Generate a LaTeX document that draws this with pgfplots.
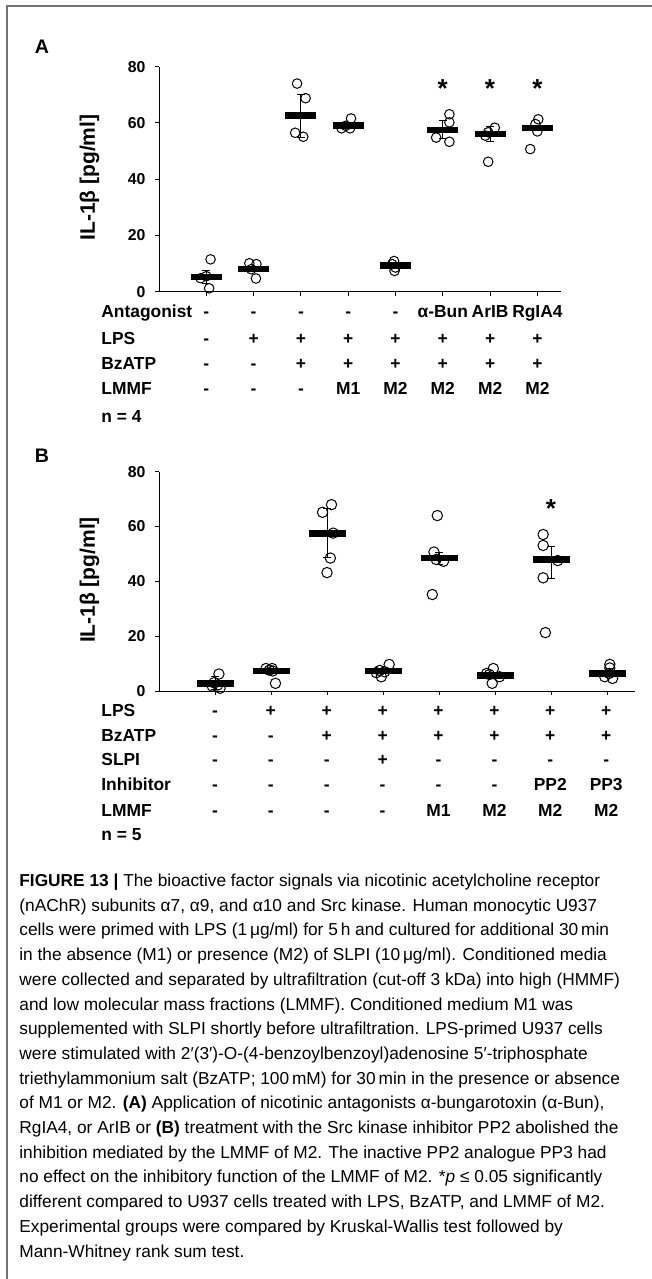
\documentclass[border=0pt]{standalone}
\usepackage{fontspec}
\setmainfont{Liberation Sans}
\usepackage{pgfplots}
\pgfplotsset{compat=1.18}
\pgfplotsset{
  panel/.style={
    scale only axis, clip=false,
    axis x line=bottom, axis y line=left, axis line style={-, line width=0.5pt, black},
    tick align=outside, major tick length=2pt, tick style={black, line width=0.5pt},
    xmin=0, xmax=8.5, ymin=0, ymax=80,
    xtick={1,...,8}, xticklabels={},
    ytick={0,20,40,60,80},
    /pgf/number format/assume math mode=true,
    yticklabel style={font=\bfseries\fontsize{7.9}{10}\selectfont, xshift=-1.2pt},
    anchor=south west,
  },
  circ/.style={only marks, mark=o, mark options={black, line width=0.5pt}},
  meanbar/.style={black, only marks, mark=-, mark options={line width=3.4pt},
    error bars/y dir=both, error bars/y explicit,
    error bars/error bar style={line width=0.5pt, black},
    error bars/error mark options={rotate=90, mark size=2pt, line width=0.5pt, black}},
}
\newcommand{\tf}{\bfseries\fontsize{8.7}{10}\selectfont}
\newcommand{\cf}{\fontsize{8.65}{10}\selectfont}
\begin{document}
\begin{tikzpicture}
\begin{scope}[x=0.5pt,y=-0.5pt]
\path[use as bounding box] (0,0) rectangle (652,1279);
\draw[black!55, line width=0.75pt] (7,1279) -- (7,6) -- (652,6);
% panel letters
\node[anchor=base, font=\bfseries\fontsize{9.8}{12}\selectfont] at (42,54) {A};
\node[anchor=base, font=\bfseries\fontsize{9.8}{12}\selectfont] at (42,462) {B};
% y labels
\node[rotate=90, font=\bfseries\fontsize{10.5}{12}\selectfont] at (89.6,177.5) {IL-1β [pg/ml]};
\node[rotate=90, font=\bfseries\fontsize{10.5}{12}\selectfont] at (89.6,580) {IL-1β [pg/ml]};
% table A
\begin{scope}[every node/.style={inner sep=0pt}]
\node[anchor=base west, font=\tf] at (101,317.5) {Antagonist};
\node[anchor=base west, font=\tf] at (101,344.3) {LPS};
\node[anchor=base west, font=\tf] at (101,369.3) {BzATP};
\node[anchor=base west, font=\tf] at (101,394.3) {LMMF};
\node[anchor=base west, font=\tf] at (101,422.5) {n = 4};
\foreach \t [count=\i] in {-,-,-,-,-,α-Bun,ArIB,RgIA4} \node[anchor=base, font=\tf] at ({159+\i*47.3},317.5) {\t};
\foreach \t [count=\i] in {-,+,+,+,+,+,+,+} \node[anchor=base, font=\tf] at ({159+\i*47.3},344.3) {\t};
\foreach \t [count=\i] in {-,-,+,+,+,+,+,+} \node[anchor=base, font=\tf] at ({159+\i*47.3},369.3) {\t};
\foreach \t [count=\i] in {-,-,-,M1,M2,M2,M2,M2} \node[anchor=base, font=\tf] at ({159+\i*47.3},394.3) {\t};
% table B
\node[anchor=base west, font=\tf] at (101,716) {LPS};
\node[anchor=base west, font=\tf] at (101,741) {BzATP};
\node[anchor=base west, font=\tf] at (101,765.3) {SLPI};
\node[anchor=base west, font=\tf] at (101,790) {Inhibitor};
\node[anchor=base west, font=\tf] at (101,816) {LMMF};
\node[anchor=base west, font=\tf] at (101,840.3) {n = 5};
\foreach \t [count=\i] in {-,+,+,+,+,+,+,+} \node[anchor=base, font=\tf] at ({159+\i*55.9},716) {\t};
\foreach \t [count=\i] in {-,-,+,+,+,+,+,+} \node[anchor=base, font=\tf] at ({159+\i*55.9},741) {\t};
\foreach \t [count=\i] in {-,-,-,+,-,-,-,-} \node[anchor=base, font=\tf] at ({159+\i*55.9},765.3) {\t};
\foreach \t [count=\i] in {-,-,-,-,-,-,PP2,PP3} \node[anchor=base, font=\tf] at ({159+\i*55.9},790) {\t};
\foreach \t [count=\i] in {-,-,-,-,M1,M2,M2,M2} \node[anchor=base, font=\tf] at ({159+\i*55.9},816) {\t};
\end{scope}
% caption
\foreach \l [count=\k] in {
{\textbf{FIGURE 13 |} The bioactive factor signals via nicotinic acetylcholine receptor},
{(nAChR) subunits α7, α9, and α10 and Src kinase. Human monocytic U937},
{cells were primed with LPS (1\,μg/ml) for 5\,h and cultured for additional 30\,min},
{in the absence (M1) or presence (M2) of SLPI (10\,μg/ml). Conditioned media},
{were collected and separated by ultrafiltration (cut-off 3 kDa) into high (HMMF)},
{and low molecular mass fractions (LMMF). Conditioned medium M1 was},
{supplemented with SLPI shortly before ultrafiltration. LPS-primed U937 cells},
{were stimulated with 2′(3′)-O-(4-benzoylbenzoyl)adenosine 5′-triphosphate},
{triethylammonium salt (BzATP; 100\,mM) for 30\,min in the presence or absence},
{of M1 or M2. \textbf{(A)} Application of nicotinic antagonists α-bungarotoxin (α-Bun),},
{RgIA4, or ArIB or \textbf{(B)} treatment with the Src kinase inhibitor PP2 abolished the},
{inhibition mediated by the LMMF of M2. The inactive PP2 analogue PP3 had},
{no effect on the inhibitory function of the LMMF of M2. *\textit{p} ≤ 0.05 significantly},
{different compared to U937 cells treated with LPS, BzATP, and LMMF of M2.},
{Experimental groups were compared by Kruskal-Wallis test followed by},
{Mann-Whitney rank sum test.}}
\node[anchor=base west, inner sep=0pt, font=\cf] at (19,{886.5+(\k-1)*24.7}) {\l};
\end{scope}

% ---------- Panel A ----------
\begin{axis}[panel, at={(79.5pt,-145.85pt)}, width=201pt, height=112.5pt]
\addplot[circ, mark size=2.4pt] coordinates {
(1.09,11.5) (0.88,4.8) (1.06,1.2) (1.00,5.5)
(1.91,10.1) (2.06,9.8) (2.05,4.7) (1.95,8.0)
(2.92,74.0) (3.10,68.8) (3.05,55.1) (2.88,56.5)
(4.06,61.6) (3.86,58.1) (4.04,58.1) (3.95,59.0)
(4.97,10.9) (4.98,7.4) (4.93,9.8) (5.00,8.6)
(6.14,63.1) (6.14,60.2) (5.86,54.8) (6.14,53.3)
(7.10,58.3) (6.96,56.7) (6.96,46.2) (6.90,55.5)
(8.02,61.3) (7.96,59.6) (8.00,57.0) (7.85,50.7)
};
\addplot[mark size=7.75pt, meanbar] coordinates {
(1,5.2) += (0,2.3) -= (0,2.3)
(2,8.1) += (0,0) -= (0,0)
(3,62.6) += (0,7.6) -= (0,7.6)
(4,59.2) += (0,0) -= (0,0)
(5,9.2) += (0,0) -= (0,0)
(6,57.5) += (0,3.2) -= (0,3.2)
(7,56.1) += (0,2.8) -= (0,2.8)
(8,58.2) += (0,0) -= (0,0)
};
\addplot[draw=none, mark=none, nodes near coords={*},
  every node near coord/.append style={anchor=base, font=\bfseries\fontsize{13}{14}\selectfont}]
  coordinates {(6,68.9) (7,68.9) (8,68.9)};
\end{axis}

% ---------- Panel B ----------
\begin{axis}[panel, at={(79.5pt,-345.5pt)}, width=238pt, height=109.65pt]
\addplot[circ, mark size=2.6pt] coordinates {
(1.07,6.2) (0.98,3.0) (1.05,2.2) (0.95,1.8) (1.09,1.0)
(1.91,8.2) (2.02,8.2) (2.08,2.8) (1.97,7.6) (2.03,7.3)
(3.08,68.0) (2.92,65.2) (3.11,57.6) (3.06,48.5) (3.00,43.2)
(4.11,9.7) (3.88,6.7) (3.97,5.2) (4.03,7.0) (3.94,7.5)
(4.97,64.0) (4.91,50.7) (5.08,47.3) (4.88,35.2) (4.95,48.0)
(5.97,8.2) (5.85,6.4) (5.95,2.8) (6.08,5.2) (5.90,6.0)
(6.86,57.1) (6.86,53.1) (7.12,47.6) (6.86,41.3) (6.90,21.3)
(8.05,9.7) (8.05,8.4) (8.04,6.4) (8.10,4.6) (7.96,5.2)
};
\addplot[mark size=9.25pt, meanbar] coordinates {
(1,2.8) += (0,2.4) -= (0,2.4)
(2,7.3) += (0,0) -= (0,0)
(3,57.6) += (0,9) -= (0,9)
(4,7.3) += (0,0) -= (0,0)
(5,48.5) += (0,2.2) -= (0,2.2)
(6,5.6) += (0,0) -= (0,0)
(7,47.9) += (0,4.9) -= (0,6.7)
(8,6.4) += (0,0) -= (0,0)
};
\addplot[draw=none, mark=none, nodes near coords={*},
  every node near coord/.append style={anchor=base, font=\bfseries\fontsize{13}{14}\selectfont}]
  coordinates {(7,63.2)};
\end{axis}
\end{tikzpicture}
\end{document}
